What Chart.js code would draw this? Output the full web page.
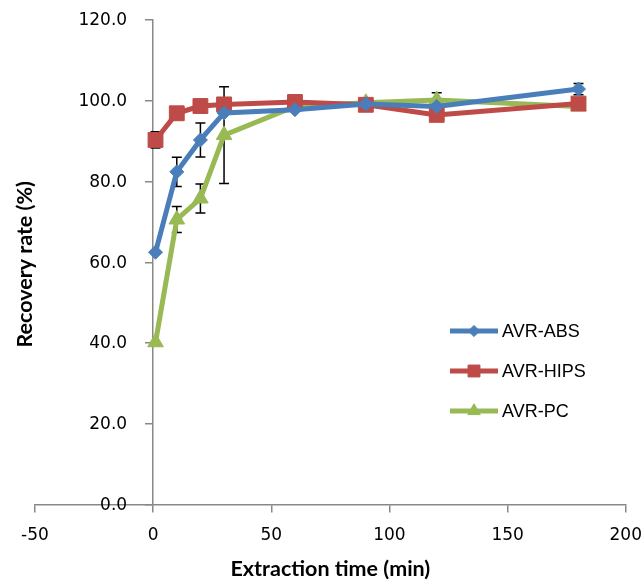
<!DOCTYPE html>
<html>
<head>
<meta charset="utf-8">
<title>Recovery rate vs extraction time</title>
<script src="https://cdn.jsdelivr.net/npm/chart.js@4.4.1/dist/chart.umd.min.js"></script>
<style>
    html, body { margin: 0; padding: 0; background: #ffffff; overflow: hidden; }
    #wrap { width: 642px; height: 580px; position: relative; }
</style>
</head>
<body>
<div id="wrap"><canvas id="recoveryChart"></canvas></div>
<script>
// data
const times = [1, 10, 20, 30, 60, 90, 120, 180];
const absValues = [62.5, 82.4, 90.3, 97.0, 97.8, 99.2, 98.6, 102.9];
const hipsValues = [90.3, 96.9, 98.7, 99.1, 99.7, 99.0, 96.5, 99.3];
const pcValues = [40.2, 70.6, 75.8, 91.5, 98.6, 99.5, 100.2, 98.6];
const absErrors = [0, 3.6, 4.2, 0, 0, 0, 0, 1.4];
const hipsErrors = [2.0, 0, 0, 0, 0, 0, 0, 0];
const pcErrors = [0, 3.2, 3.6, 12.0, 0, 0, 1.8, 0];
const seriesNames = ['AVR-ABS', 'AVR-HIPS', 'AVR-PC'];
const xTitle = 'Extraction time (min)';
const yTitle = 'Recovery rate (%)';

const colors = ['#4A7EBB', '#BE4B48', '#98B954'];
const tickFont = '17px "DejaVu Sans"';

function toPoints(values) {
    return values.map((v, i) => ({ x: times[i], y: v }));
}

// Error bars, drawn under the lines
const errorBars = {
    id: 'errorBars',
    beforeDatasetsDraw(chart) {
        const ctx = chart.ctx;
        const xs = chart.scales.x, ys = chart.scales.y;
        ctx.save();
        ctx.strokeStyle = '#000000';
        ctx.lineWidth = 1.5;
        chart.data.datasets.forEach(ds => {
            (ds.errors || []).forEach((e, i) => {
                if (!e) return;
                const px = xs.getPixelForValue(ds.data[i].x);
                const top = ys.getPixelForValue(ds.data[i].y + e);
                const bot = ys.getPixelForValue(ds.data[i].y - e);
                ctx.beginPath();
                ctx.moveTo(px, top); ctx.lineTo(px, bot);
                ctx.moveTo(px - 5, top); ctx.lineTo(px + 5, top);
                ctx.moveTo(px - 5, bot); ctx.lineTo(px + 5, bot);
                ctx.stroke();
            });
        });
        ctx.restore();
    }
};

// y tick labels sit left of the axis that crosses at x = 0, title on the far left,
// and the line+marker legend inside the plot
const extras = {
    id: 'extras',
    afterDraw(chart) {
        const ctx = chart.ctx;
        const area = chart.chartArea;
        const xs = chart.scales.x, ys = chart.scales.y;
        const axisX = xs.getPixelForValue(0);

        ctx.save();
        ctx.fillStyle = '#000000';
        ctx.font = tickFont;
        ctx.textAlign = 'right';
        ctx.textBaseline = 'middle';
        ys.ticks.forEach(t => {
            ctx.fillText(t.value.toFixed(1), axisX - 26, ys.getPixelForValue(t.value) + 1);
        });
        ctx.restore();

        ctx.save();
        ctx.fillStyle = '#000000';
        ctx.font = 'bold 21.5px Lato';
        ctx.textAlign = 'center';
        ctx.textBaseline = 'middle';
        ctx.translate(25, (area.top + area.bottom) / 2 + 2);
        ctx.rotate(-Math.PI / 2);
        ctx.fillText(yTitle, 0, 0);
        ctx.restore();

        ctx.save();
        chart.data.datasets.forEach((ds, i) => {
            const y = 331 + i * 40;
            ctx.strokeStyle = ds.borderColor;
            ctx.lineWidth = 5;
            ctx.beginPath();
            ctx.moveTo(450, y); ctx.lineTo(498, y);
            ctx.stroke();
            ctx.fillStyle = ds.backgroundColor;
            ctx.strokeStyle = ds.borderColor;
            ctx.lineWidth = 1;
            Chart.helpers.drawPoint(ctx, {
                pointStyle: ds.pointStyle, radius: ds.pointRadius * 0.8, borderWidth: 1, rotation: 0
            }, 474, y);
            ctx.fillStyle = '#000000';
            ctx.font = '18px "Liberation Sans"';
            ctx.textAlign = 'left';
            ctx.textBaseline = 'middle';
            ctx.fillText(ds.label, 502, y + 1);
        });
        ctx.restore();
    }
};

const axisColor = '#888888';

new Chart(document.getElementById('recoveryChart'), {
    type: 'line',
    data: {
        datasets: [
            {
                label: seriesNames[0], data: toPoints(absValues), errors: absErrors,
                borderColor: colors[0], backgroundColor: colors[0], borderWidth: 5,
                pointStyle: 'rectRot', pointRadius: 7, pointBorderWidth: 1
            },
            {
                label: seriesNames[1], data: toPoints(hipsValues), errors: hipsErrors,
                borderColor: colors[1], backgroundColor: colors[1], borderWidth: 5,
                pointStyle: 'rect', pointRadius: 10.5, pointBorderWidth: 1
            },
            {
                label: seriesNames[2], data: toPoints(pcValues), errors: pcErrors,
                borderColor: colors[2], backgroundColor: colors[2], borderWidth: 5,
                pointStyle: 'triangle', pointRadius: 9, pointBorderWidth: 1
            }
        ]
    },
    options: {
        responsive: true,
        maintainAspectRatio: false,
        animation: false,
        layout: { autoPadding: false, padding: { left: 35, top: 20, right: 16, bottom: 0 } },
        plugins: {
            legend: { display: false },
            tooltip: { enabled: false }
        },
        scales: {
            x: {
                type: 'linear',
                position: 'bottom',
                min: -50, max: 200,
                // tall line height pushes the labels down without widening the right padding
                ticks: { stepSize: 50, color: '#000000', padding: 0, font: { family: 'DejaVu Sans', size: 17, lineHeight: 2.7 } },
                grid: { drawOnChartArea: false, tickLength: 8, color: axisColor, lineWidth: 1.5 },
                border: { color: axisColor, width: 1.5 },
                title: {
                    display: true, text: xTitle, color: '#000000',
                    font: { family: 'Lato', size: 21.5, weight: 'bold', lineHeight: 1 },
                    padding: { top: 0, bottom: 0 }
                }
            },
            y: {
                type: 'linear',
                position: { x: 0 },
                min: 0, max: 120,
                ticks: { stepSize: 20, display: false },
                grid: { drawOnChartArea: false, tickLength: 7, color: axisColor, lineWidth: 1.5 },
                border: { color: axisColor, width: 1.5 }
            }
        }
    },
    plugins: [errorBars, extras]
});
</script>
</body>
</html>
